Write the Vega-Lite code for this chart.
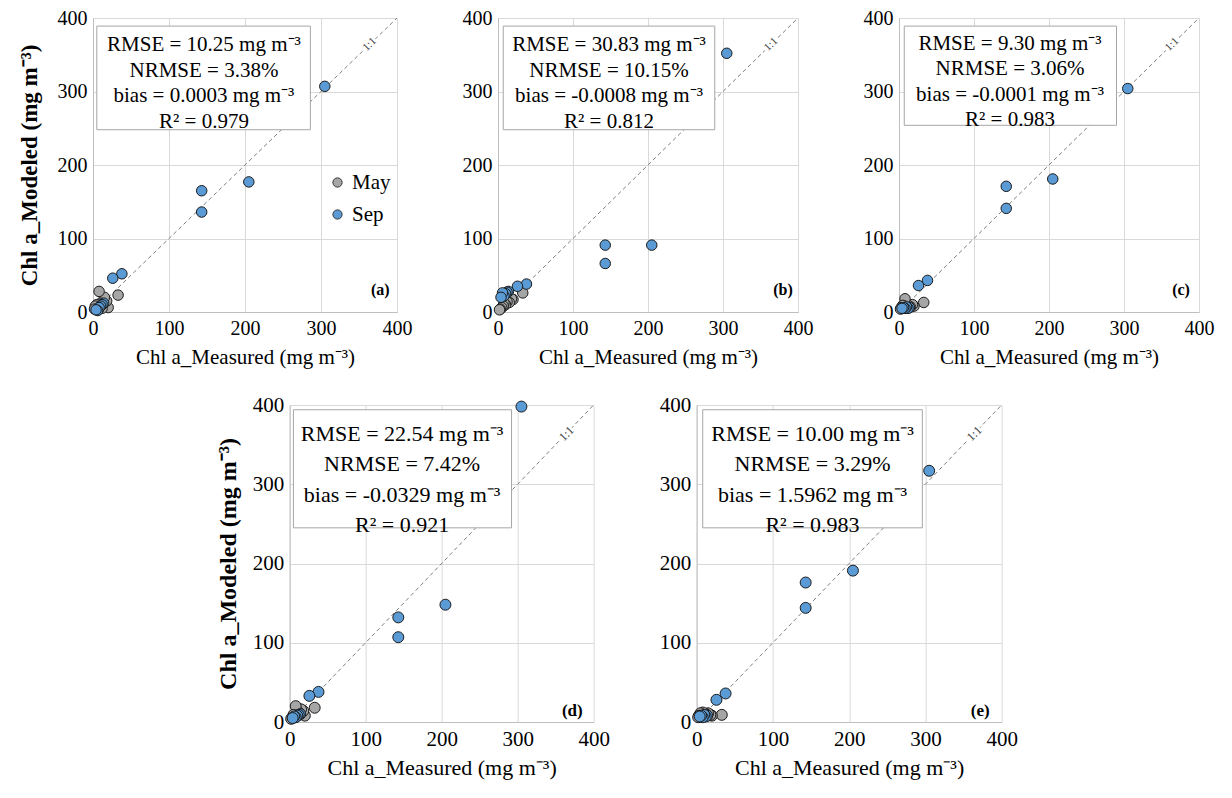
{
  "$schema": "https://vega.github.io/schema/vega-lite/v6.json",
  "background": "white",
  "padding": {"left": 17, "top": 8, "right": 5, "bottom": 5},
  "config": {
    "font": "Liberation Serif",
    "view": {"stroke": null},
    "axis": {"grid": true, "gridColor": "#d9d9d9", "domainColor": "#bfbfbf", "ticks": false, "labelFontSize": 20, "labelColor": "#000", "titleFontSize": 20, "titleColor": "#000", "titleFontWeight": "normal", "labelPadding": 6, "labelFlush": false, "labelOverlap": false}
  },
  "datasets": {
    "pts": [
      {"panel":"a","month":"May","measured":33,"modeled":23},{"panel":"a","month":"May","measured":20,"modeled":6},{"panel":"a","month":"May","measured":18,"modeled":15},{"panel":"a","month":"May","measured":15,"modeled":20},{"panel":"a","month":"May","measured":12,"modeled":5},{"panel":"a","month":"May","measured":10,"modeled":12},{"panel":"a","month":"May","measured":8,"modeled":28},{"panel":"a","month":"May","measured":7,"modeled":3},{"panel":"a","month":"May","measured":5,"modeled":10},{"panel":"a","month":"May","measured":3,"modeled":8},{"panel":"a","month":"May","measured":2,"modeled":4},
      {"panel":"a","month":"Sep","measured":305,"modeled":307},{"panel":"a","month":"Sep","measured":205,"modeled":177},{"panel":"a","month":"Sep","measured":143,"modeled":165},{"panel":"a","month":"Sep","measured":143,"modeled":136},{"panel":"a","month":"Sep","measured":38,"modeled":52},{"panel":"a","month":"Sep","measured":26,"modeled":46},{"panel":"a","month":"Sep","measured":14,"modeled":12},{"panel":"a","month":"Sep","measured":12,"modeled":10},{"panel":"a","month":"Sep","measured":10,"modeled":8},{"panel":"a","month":"Sep","measured":8,"modeled":6},{"panel":"a","month":"Sep","measured":6,"modeled":2},{"panel":"a","month":"Sep","measured":4,"modeled":3},
      {"panel":"b","month":"May","measured":33,"modeled":26},{"panel":"b","month":"May","measured":20,"modeled":17},{"panel":"b","month":"May","measured":18,"modeled":18},{"panel":"b","month":"May","measured":15,"modeled":13},{"panel":"b","month":"May","measured":12,"modeled":14},{"panel":"b","month":"May","measured":10,"modeled":10},{"panel":"b","month":"May","measured":8,"modeled":12},{"panel":"b","month":"May","measured":7,"modeled":8},{"panel":"b","month":"May","measured":5,"modeled":6},{"panel":"b","month":"May","measured":3,"modeled":4},{"panel":"b","month":"May","measured":2,"modeled":3},
      {"panel":"b","month":"Sep","measured":305,"modeled":352},{"panel":"b","month":"Sep","measured":205,"modeled":91},{"panel":"b","month":"Sep","measured":143,"modeled":91},{"panel":"b","month":"Sep","measured":143,"modeled":66},{"panel":"b","month":"Sep","measured":38,"modeled":38},{"panel":"b","month":"Sep","measured":26,"modeled":35},{"panel":"b","month":"Sep","measured":14,"modeled":28},{"panel":"b","month":"Sep","measured":12,"modeled":27},{"panel":"b","month":"Sep","measured":10,"modeled":25},{"panel":"b","month":"Sep","measured":8,"modeled":22},{"panel":"b","month":"Sep","measured":6,"modeled":26},{"panel":"b","month":"Sep","measured":4,"modeled":20},
      {"panel":"c","month":"May","measured":33,"modeled":13},{"panel":"c","month":"May","measured":20,"modeled":8},{"panel":"c","month":"May","measured":18,"modeled":10},{"panel":"c","month":"May","measured":15,"modeled":7},{"panel":"c","month":"May","measured":12,"modeled":9},{"panel":"c","month":"May","measured":10,"modeled":6},{"panel":"c","month":"May","measured":8,"modeled":18},{"panel":"c","month":"May","measured":7,"modeled":8},{"panel":"c","month":"May","measured":5,"modeled":9},{"panel":"c","month":"May","measured":3,"modeled":6},{"panel":"c","month":"May","measured":2,"modeled":4},
      {"panel":"c","month":"Sep","measured":305,"modeled":304},{"panel":"c","month":"Sep","measured":205,"modeled":181},{"panel":"c","month":"Sep","measured":143,"modeled":171},{"panel":"c","month":"Sep","measured":143,"modeled":141},{"panel":"c","month":"Sep","measured":38,"modeled":43},{"panel":"c","month":"Sep","measured":26,"modeled":36},{"panel":"c","month":"Sep","measured":14,"modeled":6},{"panel":"c","month":"Sep","measured":12,"modeled":5},{"panel":"c","month":"Sep","measured":10,"modeled":7},{"panel":"c","month":"Sep","measured":8,"modeled":5},{"panel":"c","month":"Sep","measured":6,"modeled":6},{"panel":"c","month":"Sep","measured":4,"modeled":5},
      {"panel":"d","month":"May","measured":33,"modeled":18},{"panel":"d","month":"May","measured":20,"modeled":8},{"panel":"d","month":"May","measured":18,"modeled":14},{"panel":"d","month":"May","measured":15,"modeled":16},{"panel":"d","month":"May","measured":12,"modeled":12},{"panel":"d","month":"May","measured":10,"modeled":10},{"panel":"d","month":"May","measured":8,"modeled":20},{"panel":"d","month":"May","measured":7,"modeled":6},{"panel":"d","month":"May","measured":5,"modeled":9},{"panel":"d","month":"May","measured":3,"modeled":5},{"panel":"d","month":"May","measured":2,"modeled":4},
      {"panel":"d","month":"Sep","measured":305,"modeled":398},{"panel":"d","month":"Sep","measured":205,"modeled":148},{"panel":"d","month":"Sep","measured":143,"modeled":132},{"panel":"d","month":"Sep","measured":143,"modeled":107},{"panel":"d","month":"Sep","measured":38,"modeled":38},{"panel":"d","month":"Sep","measured":26,"modeled":33},{"panel":"d","month":"Sep","measured":14,"modeled":10},{"panel":"d","month":"Sep","measured":12,"modeled":9},{"panel":"d","month":"Sep","measured":10,"modeled":8},{"panel":"d","month":"Sep","measured":8,"modeled":6},{"panel":"d","month":"Sep","measured":6,"modeled":7},{"panel":"d","month":"Sep","measured":4,"modeled":5},
      {"panel":"e","month":"May","measured":33,"modeled":9},{"panel":"e","month":"May","measured":20,"modeled":8},{"panel":"e","month":"May","measured":18,"modeled":9},{"panel":"e","month":"May","measured":15,"modeled":11},{"panel":"e","month":"May","measured":12,"modeled":10},{"panel":"e","month":"May","measured":10,"modeled":8},{"panel":"e","month":"May","measured":8,"modeled":12},{"panel":"e","month":"May","measured":7,"modeled":9},{"panel":"e","month":"May","measured":5,"modeled":11},{"panel":"e","month":"May","measured":3,"modeled":8},{"panel":"e","month":"May","measured":2,"modeled":6},
      {"panel":"e","month":"Sep","measured":305,"modeled":317},{"panel":"e","month":"Sep","measured":205,"modeled":191},{"panel":"e","month":"Sep","measured":143,"modeled":176},{"panel":"e","month":"Sep","measured":143,"modeled":144},{"panel":"e","month":"Sep","measured":38,"modeled":36},{"panel":"e","month":"Sep","measured":26,"modeled":28},{"panel":"e","month":"Sep","measured":14,"modeled":8},{"panel":"e","month":"Sep","measured":12,"modeled":7},{"panel":"e","month":"Sep","measured":10,"modeled":9},{"panel":"e","month":"Sep","measured":8,"modeled":6},{"panel":"e","month":"Sep","measured":6,"modeled":8},{"panel":"e","month":"Sep","measured":4,"modeled":7}
    ],
    "stats": [
      {"panel":"a","letter":"(a)","txt":"RMSE = 10.25 mg m⁻³\nNRMSE = 3.38%\nbias = 0.0003 mg m⁻³\nR² = 0.979"},
      {"panel":"b","letter":"(b)","txt":"RMSE = 30.83 mg m⁻³\nNRMSE = 10.15%\nbias = -0.0008 mg m⁻³\nR² = 0.812"},
      {"panel":"c","letter":"(c)","txt":"RMSE = 9.30 mg m⁻³\nNRMSE = 3.06%\nbias = -0.0001 mg m⁻³\nR² = 0.983"},
      {"panel":"d","letter":"(d)","txt":"RMSE = 22.54 mg m⁻³\nNRMSE = 7.42%\nbias = -0.0329 mg m⁻³\nR² = 0.921"},
      {"panel":"e","letter":"(e)","txt":"RMSE = 10.00 mg m⁻³\nNRMSE = 3.29%\nbias = 1.5962 mg m⁻³\nR² = 0.983"}
    ]
  },
  "center": true,
  "spacing": 27,
  "resolve": {"scale": {"color": "independent"}, "legend": {"color": "independent"}},
  "vconcat": [
    {
      "bounds": "flush",
      "spacing": 101,
      "resolve": {"scale": {"color": "independent"}, "legend": {"color": "independent"}},
      "hconcat": [
        {
          "width": 304, "height": 294,
          "layer": [
            {"data": {"values": [{}]}, "mark": {"type": "rule", "color": "#7f7f7f", "strokeDash": [4, 3], "strokeWidth": 1},
             "encoding": {"x": {"datum": 0, "type": "quantitative", "scale": {"domain": [0, 400], "nice": false}, "axis": {"values": [0,100,200,300,400], "title": "Chl a_Measured (mg m⁻³)", "titlePadding": 8, "titleFontSize": 21}}, "y": {"datum": 0, "type": "quantitative", "scale": {"domain": [0, 400], "nice": false}, "axis": {"values": [0,100,200,300,400], "title": "Chl a_Modeled (mg m⁻³)", "titleFontWeight": "bold", "titleFontSize": 23, "titlePadding": 16}}, "x2": {"datum": 400}, "y2": {"datum": 400}}},
            {"data": {"values": [{}]}, "mark": {"type": "rect", "fill": "white", "stroke": "#a6a6a6", "strokeWidth": 1},
             "encoding": {"x": {"datum": 5}, "x2": {"datum": 286}, "y": {"datum": 389}, "y2": {"datum": 248}}},
            {"data": {"name": "stats"}, "transform": [{"filter": "datum.panel === 'a'"}], "mark": {"type": "text", "fontSize": 21, "lineHeight": 25.5, "lineBreak": "\n", "align": "center", "baseline": "middle", "color": "#000"},
             "encoding": {"text": {"field": "txt"}, "x": {"datum": 146}, "y": {"datum": 363}}},
            {"data": {"name": "stats"}, "transform": [{"filter": "datum.panel === 'a'"}], "mark": {"type": "text", "fontSize": 16, "fontWeight": "bold", "align": "center", "baseline": "middle", "color": "#000"},
             "encoding": {"text": {"field": "letter"}, "x": {"datum": 378}, "y": {"datum": 30}}},
            {"data": {"values": [{"lab": "1:1"}]}, "mark": {"type": "text", "fontSize": 11, "angle": -44, "align": "center", "baseline": "middle", "stroke": "white", "strokeWidth": 5, "color": "white"},
             "encoding": {"text": {"field": "lab"}, "x": {"datum": 364}, "y": {"datum": 364}}},
            {"data": {"values": [{"lab": "1:1"}]}, "mark": {"type": "text", "fontSize": 11, "angle": -44, "align": "center", "baseline": "middle", "color": "#404040"},
             "encoding": {"text": {"field": "lab"}, "x": {"datum": 364}, "y": {"datum": 364}}},
            {"data": {"name": "pts"}, "transform": [{"filter": "datum.panel === 'a'"}], "mark": {"type": "point", "shape": "circle", "filled": true, "size": 110, "opacity": 1, "stroke": "#1a1a1a", "strokeWidth": 1},
             "encoding": {"x": {"field": "measured", "type": "quantitative"}, "y": {"field": "modeled", "type": "quantitative"},
               "color": {"field": "month", "type": "nominal", "scale": {"domain": ["May", "Sep"], "range": ["#a6a6a6", "#5b9bd5"]},
                 "legend": {"title": null, "orient": "none", "legendX": 234, "legendY": 154, "labelFontSize": 21, "labelColor": "#000", "symbolSize": 85, "symbolStrokeColor": "#333", "symbolStrokeWidth": 1, "rowPadding": 10, "labelOffset": 4}}}}
          ]
        },
        {
          "width": 300, "height": 294,
          "layer": [
            {"data": {"values": [{}]}, "mark": {"type": "rule", "color": "#7f7f7f", "strokeDash": [4, 3], "strokeWidth": 1},
             "encoding": {"x": {"datum": 0, "type": "quantitative", "scale": {"domain": [0, 400], "nice": false}, "axis": {"values": [0,100,200,300,400], "title": "Chl a_Measured (mg m⁻³)", "titlePadding": 8, "titleFontSize": 21}}, "y": {"datum": 0, "type": "quantitative", "scale": {"domain": [0, 400], "nice": false}, "axis": {"values": [0,100,200,300,400], "title": null}}, "x2": {"datum": 400}, "y2": {"datum": 400}}},
            {"data": {"values": [{}]}, "mark": {"type": "rect", "fill": "white", "stroke": "#a6a6a6", "strokeWidth": 1},
             "encoding": {"x": {"datum": 7}, "x2": {"datum": 289}, "y": {"datum": 389}, "y2": {"datum": 248}}},
            {"data": {"name": "stats"}, "transform": [{"filter": "datum.panel === 'b'"}], "mark": {"type": "text", "fontSize": 21, "lineHeight": 25.5, "lineBreak": "\n", "align": "center", "baseline": "middle", "color": "#000"},
             "encoding": {"text": {"field": "txt"}, "x": {"datum": 148}, "y": {"datum": 363}}},
            {"data": {"name": "stats"}, "transform": [{"filter": "datum.panel === 'b'"}], "mark": {"type": "text", "fontSize": 16, "fontWeight": "bold", "align": "center", "baseline": "middle", "color": "#000"},
             "encoding": {"text": {"field": "letter"}, "x": {"datum": 380}, "y": {"datum": 30}}},
            {"data": {"values": [{"lab": "1:1"}]}, "mark": {"type": "text", "fontSize": 11, "angle": -44, "align": "center", "baseline": "middle", "stroke": "white", "strokeWidth": 5, "color": "white"},
             "encoding": {"text": {"field": "lab"}, "x": {"datum": 364}, "y": {"datum": 364}}},
            {"data": {"values": [{"lab": "1:1"}]}, "mark": {"type": "text", "fontSize": 11, "angle": -44, "align": "center", "baseline": "middle", "color": "#404040"},
             "encoding": {"text": {"field": "lab"}, "x": {"datum": 364}, "y": {"datum": 364}}},
            {"data": {"name": "pts"}, "transform": [{"filter": "datum.panel === 'b'"}], "mark": {"type": "point", "shape": "circle", "filled": true, "size": 110, "opacity": 1, "stroke": "#1a1a1a", "strokeWidth": 1},
             "encoding": {"x": {"field": "measured", "type": "quantitative"}, "y": {"field": "modeled", "type": "quantitative"},
               "color": {"field": "month", "type": "nominal", "scale": {"domain": ["May", "Sep"], "range": ["#a6a6a6", "#5b9bd5"]}, "legend": null}}}
          ]
        },
        {
          "width": 300, "height": 294,
          "layer": [
            {"data": {"values": [{}]}, "mark": {"type": "rule", "color": "#7f7f7f", "strokeDash": [4, 3], "strokeWidth": 1},
             "encoding": {"x": {"datum": 0, "type": "quantitative", "scale": {"domain": [0, 400], "nice": false}, "axis": {"values": [0,100,200,300,400], "title": "Chl a_Measured (mg m⁻³)", "titlePadding": 8, "titleFontSize": 21}}, "y": {"datum": 0, "type": "quantitative", "scale": {"domain": [0, 400], "nice": false}, "axis": {"values": [0,100,200,300,400], "title": null}}, "x2": {"datum": 400}, "y2": {"datum": 400}}},
            {"data": {"values": [{}]}, "mark": {"type": "rect", "fill": "white", "stroke": "#a6a6a6", "strokeWidth": 1},
             "encoding": {"x": {"datum": 7}, "x2": {"datum": 290}, "y": {"datum": 389}, "y2": {"datum": 254}}},
            {"data": {"name": "stats"}, "transform": [{"filter": "datum.panel === 'c'"}], "mark": {"type": "text", "fontSize": 21, "lineHeight": 25.5, "lineBreak": "\n", "align": "center", "baseline": "middle", "color": "#000"},
             "encoding": {"text": {"field": "txt"}, "x": {"datum": 148}, "y": {"datum": 365}}},
            {"data": {"name": "stats"}, "transform": [{"filter": "datum.panel === 'c'"}], "mark": {"type": "text", "fontSize": 16, "fontWeight": "bold", "align": "center", "baseline": "middle", "color": "#000"},
             "encoding": {"text": {"field": "letter"}, "x": {"datum": 376}, "y": {"datum": 30}}},
            {"data": {"values": [{"lab": "1:1"}]}, "mark": {"type": "text", "fontSize": 11, "angle": -44, "align": "center", "baseline": "middle", "stroke": "white", "strokeWidth": 5, "color": "white"},
             "encoding": {"text": {"field": "lab"}, "x": {"datum": 364}, "y": {"datum": 364}}},
            {"data": {"values": [{"lab": "1:1"}]}, "mark": {"type": "text", "fontSize": 11, "angle": -44, "align": "center", "baseline": "middle", "color": "#404040"},
             "encoding": {"text": {"field": "lab"}, "x": {"datum": 364}, "y": {"datum": 364}}},
            {"data": {"name": "pts"}, "transform": [{"filter": "datum.panel === 'c'"}], "mark": {"type": "point", "shape": "circle", "filled": true, "size": 110, "opacity": 1, "stroke": "#1a1a1a", "strokeWidth": 1},
             "encoding": {"x": {"field": "measured", "type": "quantitative"}, "y": {"field": "modeled", "type": "quantitative"},
               "color": {"field": "month", "type": "nominal", "scale": {"domain": ["May", "Sep"], "range": ["#a6a6a6", "#5b9bd5"]}, "legend": null}}}
          ]
        }
      ]
    },
    {
      "bounds": "flush",
      "spacing": 103,
      "resolve": {"scale": {"color": "independent"}, "legend": {"color": "independent"}},
      "hconcat": [
        {
          "width": 304, "height": 317,
          "layer": [
            {"data": {"values": [{}]}, "mark": {"type": "rule", "color": "#7f7f7f", "strokeDash": [4, 3], "strokeWidth": 1},
             "encoding": {"x": {"datum": 0, "type": "quantitative", "scale": {"domain": [0, 400], "nice": false}, "axis": {"values": [0,100,200,300,400], "title": "Chl a_Measured (mg m⁻³)", "titlePadding": 8, "labelFontSize": 21, "titleFontSize": 22}}, "y": {"datum": 0, "type": "quantitative", "scale": {"domain": [0, 400], "nice": false}, "axis": {"values": [0,100,200,300,400], "title": "Chl a_Modeled (mg m⁻³)", "titleFontWeight": "bold", "titlePadding": 12, "labelFontSize": 21, "titleFontSize": 24}}, "x2": {"datum": 400}, "y2": {"datum": 400}}},
            {"data": {"values": [{}]}, "mark": {"type": "rect", "fill": "white", "stroke": "#a6a6a6", "strokeWidth": 1},
             "encoding": {"x": {"datum": 5}, "x2": {"datum": 292}, "y": {"datum": 394}, "y2": {"datum": 245}}},
            {"data": {"name": "stats"}, "transform": [{"filter": "datum.panel === 'd'"}], "mark": {"type": "text", "fontSize": 22, "lineHeight": 30.5, "lineBreak": "\n", "align": "center", "baseline": "middle", "color": "#000"},
             "encoding": {"text": {"field": "txt"}, "x": {"datum": 148}, "y": {"datum": 364}}},
            {"data": {"name": "stats"}, "transform": [{"filter": "datum.panel === 'd'"}], "mark": {"type": "text", "fontSize": 17, "fontWeight": "bold", "align": "center", "baseline": "middle", "color": "#000"},
             "encoding": {"text": {"field": "letter"}, "x": {"datum": 372}, "y": {"datum": 14}}},
            {"data": {"values": [{"lab": "1:1"}]}, "mark": {"type": "text", "fontSize": 12, "angle": -45, "align": "center", "baseline": "middle", "stroke": "white", "strokeWidth": 5, "color": "white"},
             "encoding": {"text": {"field": "lab"}, "x": {"datum": 364}, "y": {"datum": 364}}},
            {"data": {"values": [{"lab": "1:1"}]}, "mark": {"type": "text", "fontSize": 12, "angle": -45, "align": "center", "baseline": "middle", "color": "#404040"},
             "encoding": {"text": {"field": "lab"}, "x": {"datum": 364}, "y": {"datum": 364}}},
            {"data": {"name": "pts"}, "transform": [{"filter": "datum.panel === 'd'"}], "mark": {"type": "point", "shape": "circle", "filled": true, "size": 120, "opacity": 1, "stroke": "#1a1a1a", "strokeWidth": 1},
             "encoding": {"x": {"field": "measured", "type": "quantitative"}, "y": {"field": "modeled", "type": "quantitative"},
               "color": {"field": "month", "type": "nominal", "scale": {"domain": ["May", "Sep"], "range": ["#a6a6a6", "#5b9bd5"]}, "legend": null}}}
          ]
        },
        {
          "width": 305, "height": 317,
          "layer": [
            {"data": {"values": [{}]}, "mark": {"type": "rule", "color": "#7f7f7f", "strokeDash": [4, 3], "strokeWidth": 1},
             "encoding": {"x": {"datum": 0, "type": "quantitative", "scale": {"domain": [0, 400], "nice": false}, "axis": {"values": [0,100,200,300,400], "title": "Chl a_Measured (mg m⁻³)", "titlePadding": 8, "labelFontSize": 21, "titleFontSize": 22}}, "y": {"datum": 0, "type": "quantitative", "scale": {"domain": [0, 400], "nice": false}, "axis": {"values": [0,100,200,300,400], "title": null, "labelFontSize": 21}}, "x2": {"datum": 400}, "y2": {"datum": 400}}},
            {"data": {"values": [{}]}, "mark": {"type": "rect", "fill": "white", "stroke": "#a6a6a6", "strokeWidth": 1},
             "encoding": {"x": {"datum": 8}, "x2": {"datum": 296}, "y": {"datum": 394}, "y2": {"datum": 245}}},
            {"data": {"name": "stats"}, "transform": [{"filter": "datum.panel === 'e'"}], "mark": {"type": "text", "fontSize": 22, "lineHeight": 30.5, "lineBreak": "\n", "align": "center", "baseline": "middle", "color": "#000"},
             "encoding": {"text": {"field": "txt"}, "x": {"datum": 152}, "y": {"datum": 364}}},
            {"data": {"name": "stats"}, "transform": [{"filter": "datum.panel === 'e'"}], "mark": {"type": "text", "fontSize": 17, "fontWeight": "bold", "align": "center", "baseline": "middle", "color": "#000"},
             "encoding": {"text": {"field": "letter"}, "x": {"datum": 372}, "y": {"datum": 14}}},
            {"data": {"values": [{"lab": "1:1"}]}, "mark": {"type": "text", "fontSize": 12, "angle": -45, "align": "center", "baseline": "middle", "stroke": "white", "strokeWidth": 5, "color": "white"},
             "encoding": {"text": {"field": "lab"}, "x": {"datum": 364}, "y": {"datum": 364}}},
            {"data": {"values": [{"lab": "1:1"}]}, "mark": {"type": "text", "fontSize": 12, "angle": -45, "align": "center", "baseline": "middle", "color": "#404040"},
             "encoding": {"text": {"field": "lab"}, "x": {"datum": 364}, "y": {"datum": 364}}},
            {"data": {"name": "pts"}, "transform": [{"filter": "datum.panel === 'e'"}], "mark": {"type": "point", "shape": "circle", "filled": true, "size": 120, "opacity": 1, "stroke": "#1a1a1a", "strokeWidth": 1},
             "encoding": {"x": {"field": "measured", "type": "quantitative"}, "y": {"field": "modeled", "type": "quantitative"},
               "color": {"field": "month", "type": "nominal", "scale": {"domain": ["May", "Sep"], "range": ["#a6a6a6", "#5b9bd5"]}, "legend": null}}}
          ]
        }
      ]
    }
  ]
}
